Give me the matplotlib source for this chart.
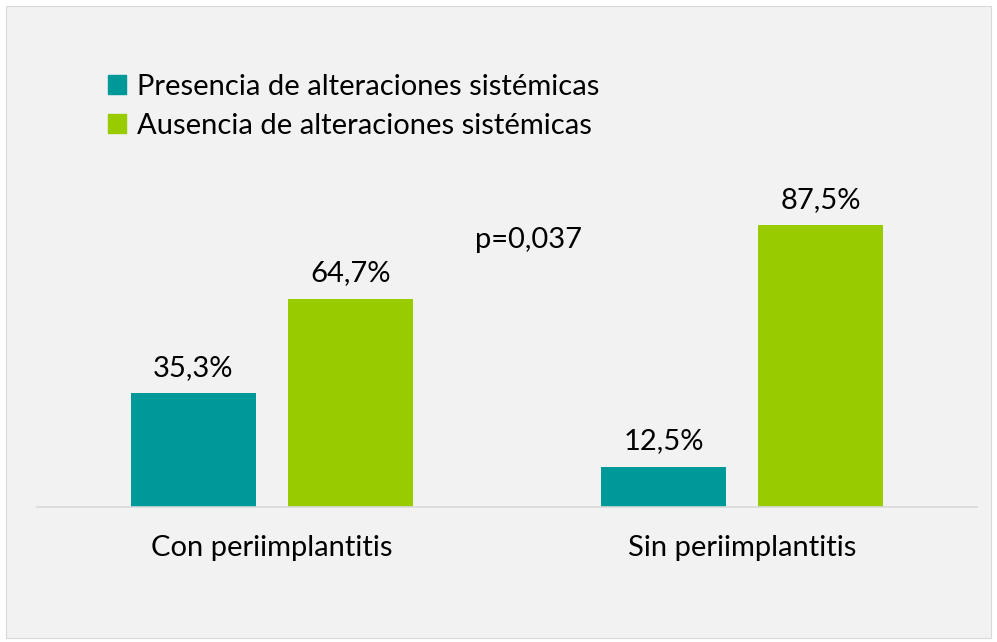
import matplotlib.pyplot as plt
import numpy as np
from matplotlib.patches import Rectangle, Patch

plt.rcParams['font.family'] = ['Lato', 'DejaVu Sans']

categorias = ["Con periimplantitis", "Sin periimplantitis"]
presencia = [35.3, 12.5]
ausencia = [64.7, 87.5]
etiquetas = ["Presencia de alteraciones sistémicas", "Ausencia de alteraciones sistémicas"]
texto_p = "p=0,037"

col_pres = "#009999"
col_aus = "#99CC00"
fs = 21

fig = plt.figure(figsize=(9.97, 6.42), dpi=100)
fig.patch.set_facecolor("white")
fig.patches.append(Rectangle((6/997, 4/642), 985/997, 632/642, transform=fig.transFigure,
                             facecolor="#F2F2F2", edgecolor="#D9D9D9", lw=0.8, zorder=-5))

ax = fig.add_axes([37/997, 135/642, 940/997, 407/642])
ax.set_facecolor("none")

x = np.arange(len(categorias))
w = 0.265
d = 0.167
b1 = ax.bar(x - d, presencia, w, color=col_pres)
b2 = ax.bar(x + d, ausencia, w, color=col_aus)

for bars, vals in ((b1, presencia), (b2, ausencia)):
    for b, v in zip(bars, vals):
        ax.annotate(f"{v:.1f}%".replace(".", ","), (b.get_x() + b.get_width()/2, v),
                    xytext=(0, 9), textcoords="offset points", ha="center", va="bottom",
                    fontsize=fs)

ax.set_xlim(-0.5, 1.5)
ax.set_ylim(0, 126.4)
ax.set_xticks(x)
ax.set_xticklabels(categorias, fontsize=fs)
ax.tick_params(axis="x", length=0, pad=20)
ax.set_yticks([])
for s in ["top", "left", "right"]:
    ax.spines[s].set_visible(False)
ax.spines["bottom"].set_color("#D9D9D9")
ax.spines["bottom"].set_linewidth(1.2)

ax.text(0.546, 83, texto_p, ha="center", va="center", fontsize=fs)

handles = [Patch(color=col_pres), Patch(color=col_aus)]
fig.legend(handles, etiquetas, loc="upper left", bbox_to_anchor=(93/997, 1 - 59/642),
           frameon=False, fontsize=fs, handlelength=0.62, handleheight=0.62,
           handletextpad=0.4, labelspacing=0.45, borderpad=0)

fig.savefig("out.png", dpi=100, facecolor=fig.get_facecolor())
